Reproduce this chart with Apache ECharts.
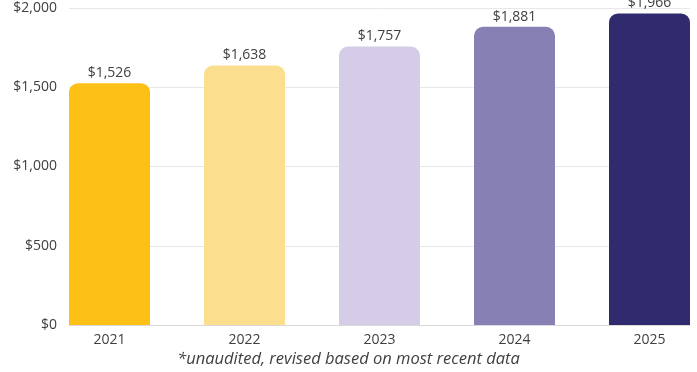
<!DOCTYPE html>
<html>
<head>
<meta charset="utf-8">
<script src="https://cdn.jsdelivr.net/npm/echarts@6/dist/echarts.min.js"></script>
<style>
  html, body { margin: 0; padding: 0; background: #fff; }
  #chart { width: 697px; height: 372px; }
</style>
</head>
<body>
<div id="chart"></div>
<script>
// Yearly totals (dollars)
const years = ['2021', '2022', '2023', '2024', '2025'];
const totals = [1526, 1638, 1757, 1881, 1966];
const barColors = ['#FCC016', '#FCDF8E', '#D5CDE8', '#8680B5', '#302A6E'];
const yTicks = [0, 500, 1000, 1500, 2000];
const footnote = '*unaudited, revised based on most recent data';

const FONT = '"Open Sans", sans-serif';
const money = v => '$' + Number(v).toLocaleString('en-US');

const chart = echarts.init(document.getElementById('chart'));
chart.setOption({
  animation: false,
  grid: { left: 69, right: 7, top: 8, bottom: 47 },
  xAxis: {
    type: 'value',
    min: -0.3,
    max: years.length - 0.7,
    splitLine: { show: false },
    axisTick: { show: false },
    axisLine: { show: true, lineStyle: { color: '#d9d9d9', width: 1 } },
    axisLabel: {
      customValues: years.map((_, i) => i),
      formatter: v => years[v] ?? '',
      color: '#404040',
      fontFamily: FONT,
      fontSize: 14,
      margin: 8
    }
  },
  yAxis: {
    type: 'value',
    min: yTicks[0],
    max: yTicks[yTicks.length - 1],
    interval: 500,
    axisLine: { show: false },
    axisTick: { show: false },
    splitLine: { lineStyle: { color: '#e8e8e8', width: 1 } },
    axisLabel: {
      formatter: money,
      color: '#404040',
      fontFamily: FONT,
      fontSize: 14,
      margin: 12
    }
  },
  series: [{
    type: 'bar',
    barWidth: 81,
    data: totals.map((v, i) => ({
      value: [i, v],
      itemStyle: { color: barColors[i], borderRadius: [9, 9, 0, 0] }
    })),
    label: {
      show: true,
      position: 'top',
      distance: 3,
      formatter: p => money(p.value[1]),
      color: '#404040',
      fontFamily: FONT,
      fontSize: 14
    }
  }],
  graphic: [{
    type: 'text',
    left: 'center',
    top: 351,
    style: {
      text: footnote,
      fill: '#404040',
      font: 'italic 16.5px ' + FONT
    }
  }]
});
</script>
</body>
</html>
